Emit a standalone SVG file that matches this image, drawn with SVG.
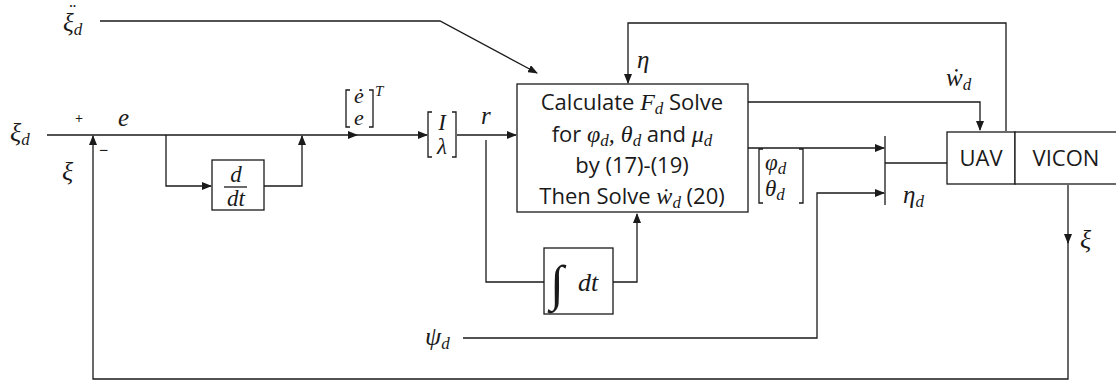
<svg xmlns="http://www.w3.org/2000/svg" width="1116" height="383" viewBox="0 0 1116 383">
<defs>
<marker id="ah" markerWidth="10" markerHeight="8" refX="9" refY="4" orient="auto" markerUnits="userSpaceOnUse">
<path d="M0,0 L10,4 L0,8 z" fill="#1a1a1a"/>
</marker>
<style>
.ln{fill:none;stroke:#1a1a1a;stroke-width:1.3}
.bx{fill:#fff;stroke:#1a1a1a;stroke-width:1.3}
.br{fill:none;stroke:#1a1a1a;stroke-width:1.3}
.m{font-family:"Liberation Serif","DejaVu Serif",serif;font-style:italic;fill:#1a1a1a}
.s{font-family:"Open Sans","Liberation Sans",sans-serif;fill:#1a1a1a}
.sub{font-size:17px}
</style>
</defs>
<rect width="1116" height="383" fill="#fff"/>

<g id="connectors">
<polyline class="ln" points="100,21 440,21 537,73" marker-end="url(#ah)"/>
<line class="ln" x1="47" y1="135" x2="357" y2="135" marker-end="url(#ah)"/>
<line class="ln" x1="357" y1="135" x2="427" y2="135" marker-end="url(#ah)"/>
<polyline class="ln" points="1068,185 1068,243" marker-end="url(#ah)"/>
<polyline class="ln" points="1068,240 1068,379 93,379 93,136" marker-end="url(#ah)"/>
<polyline class="ln" points="166,135 166,186 211,186" marker-end="url(#ah)"/>
<polyline class="ln" points="264,186 302,186 302,136" marker-end="url(#ah)"/>
<line class="ln" x1="457" y1="135" x2="516" y2="135" marker-end="url(#ah)"/>
<polyline class="ln" points="486,140 486,282 544,282"/>
<polyline class="ln" points="613,282 637,282 637,214" marker-end="url(#ah)"/>
<polyline class="ln" points="1006,131 1006,23 628,23 628,83" marker-end="url(#ah)"/>
<polyline class="ln" points="748,102 980,102 980,130" marker-end="url(#ah)"/>
<line class="ln" x1="748" y1="148" x2="884" y2="148" marker-end="url(#ah)"/>
<line class="ln" x1="885" y1="136" x2="885" y2="205"/>
<line class="ln" x1="885" y1="163" x2="947" y2="163"/>
<polyline class="ln" points="463,338 817,338 817,193 884,193" marker-end="url(#ah)"/>
</g>

<g id="labels">
<text class="m" x="63" y="31" font-size="25">ξ<tspan class="sub" dy="4">d</tspan></text>
<text class="m" x="68" y="19" font-size="20">¨</text>
<text class="m" x="10" y="141" font-size="26">ξ<tspan class="sub" dy="4">d</tspan></text>
<text class="s" x="75" y="124" font-size="14">+</text>
<text class="s" x="99" y="156" font-size="16">−</text>
<text class="m" x="118" y="126" font-size="25">e</text>
<text class="m" x="62" y="180" font-size="26">ξ</text>
<g id="edot">
<path class="br" d="M350,90 H346 V127 H350 M369,90 H373 V127 H369"/>
<text class="m" x="359" y="103" font-size="22" text-anchor="middle">ė</text>
<text class="m" x="359" y="125" font-size="22" text-anchor="middle">e</text>
<text class="m" x="375" y="96" font-size="15">T</text>
</g>
<text class="m" x="481" y="124" font-size="25">r</text>
<text class="m" x="637" y="68" font-size="25">η</text>
<text class="m" x="946" y="86" font-size="25">ẇ<tspan class="sub" dy="4">d</tspan></text>
<g id="phitheta">
<path class="br" d="M763,149 H759 V203 H763 M799,149 H803 V203 H799"/>
<text class="m" x="765" y="170" font-size="23">φ<tspan class="sub" dy="4">d</tspan></text>
<text class="m" x="765" y="196" font-size="23">θ<tspan class="sub" dy="4">d</tspan></text>
</g>
<text class="m" x="903" y="203" font-size="25">η<tspan class="sub" dy="4">d</tspan></text>
<text class="m" x="1080" y="248" font-size="26">ξ</text>
<text class="m" x="425" y="345" font-size="26">ψ<tspan class="sub" dy="4">d</tspan></text>
</g>

<g id="IL">
<path class="br" d="M432,112 H428 V157 H432 M452,112 H456 V157 H452"/>
<text class="m" x="442" y="130" font-size="23" text-anchor="middle">I</text>
<text class="m" x="442" y="154" font-size="23" text-anchor="middle">λ</text>
</g>

<g id="deriv">
<rect class="bx" x="212" y="160" width="52" height="50"/>
<text class="m" x="236" y="182" font-size="23" text-anchor="middle">d</text>
<line class="ln" x1="224" y1="187" x2="247" y2="187"/>
<text class="m" x="236" y="206" font-size="23" text-anchor="middle">dt</text>
</g>

<g id="integral">
<rect class="bx" x="544" y="248" width="69" height="66"/>
<text class="m" x="550" y="300" font-size="50">∫</text>
<text class="m" x="578" y="291" font-size="26">dt</text>
</g>

<g id="controller">
<rect class="bx" x="517" y="84" width="231" height="128"/>
<text class="s" x="632" y="110" font-size="22" text-anchor="middle">Calculate <tspan class="m" font-size="24">F<tspan class="sub" dy="4">d</tspan></tspan><tspan dy="-4"> Solve</tspan></text>
<text class="s" x="632" y="142" font-size="22" text-anchor="middle">for <tspan class="m" font-size="24">φ<tspan class="sub" dy="4">d</tspan><tspan dy="-4">, θ</tspan><tspan class="sub" dy="4">d</tspan></tspan><tspan dy="-4"> and </tspan><tspan class="m" font-size="24">μ<tspan class="sub" dy="4">d</tspan></tspan></text>
<text class="s" x="632" y="173" font-size="22" text-anchor="middle">by (17)-(19)</text>
<text class="s" x="632" y="204" font-size="22" text-anchor="middle">Then Solve <tspan class="m" font-size="24">ẇ<tspan class="sub" dy="4">d</tspan></tspan><tspan dy="-4"> (20)</tspan></text>
</g>

<g id="uav">
<rect class="bx" x="947" y="132" width="68" height="52"/>
<text class="s" x="981" y="166" font-size="22" text-anchor="middle">UAV</text>
</g>
<g id="vicon">
<rect class="bx" x="1015" y="132" width="110" height="52"/>
<text class="s" x="1066" y="166" font-size="22" text-anchor="middle">VICON</text>
</g>
</svg>
